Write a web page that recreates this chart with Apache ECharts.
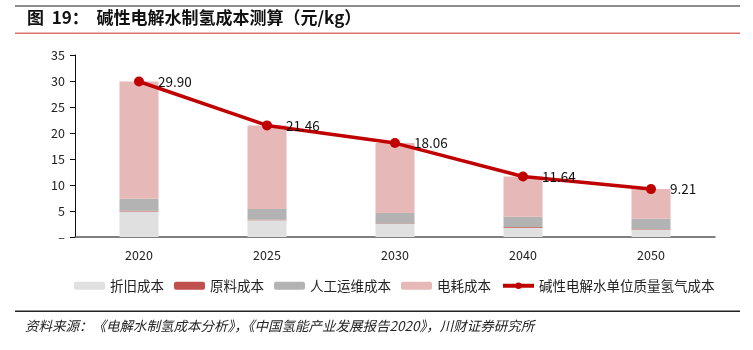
<!DOCTYPE html>
<html>
<head>
<meta charset="utf-8">
<script src="https://cdn.jsdelivr.net/npm/echarts@6/dist/echarts.min.js"></script>
<style>
  html, body { margin: 0; padding: 0; background: #fff; }
  #el { width: 753px; height: 350px; }
</style>
</head>
<body>
<div id="el"></div>
<script>
// 数据
var years = ['2020', '2025', '2030', '2040', '2050'];
var zhejiu = [4.9, 3.2, 2.5, 1.8, 1.4];        // 折旧成本
var yuanliao = [0.15, 0.1, 0.1, 0.1, 0.1];     // 原料成本
var rengong = [2.3, 2.1, 2.0, 2.0, 2.0];       // 人工运维成本
var total = [29.90, 21.46, 18.06, 11.64, 9.21]; // 单位质量氢气成本
var dianhao = total.map(function (t, i) {       // 电耗成本 = 总 - 其他
  return +(t - zhejiu[i] - yuanliao[i] - rengong[i]).toFixed(2);
});

var font = '"Noto Sans CJK SC", "DejaVu Sans", sans-serif';
var mychart = echarts.init(document.getElementById('el'));
var option = {
  animation: false,
  textStyle: { fontFamily: font },
  title: {
    left: 27, top: 9, padding: 0,
    text: '图  19：  碱性电解水制氢成本测算（元/kg）',
    textStyle: { fontSize: 17, fontWeight: 'bold', color: '#111' }
  },
  graphic: [
    { type: 'rect', shape: { x: 15, y: 5, width: 725, height: 2 }, style: { fill: '#8c8c8c' } },
    { type: 'rect', shape: { x: 15, y: 32.5, width: 725, height: 1.5 }, style: { fill: '#d9716e' } },
    { type: 'rect', shape: { x: 15, y: 310.5, width: 725, height: 1.5 }, style: { fill: '#222' } },
    {
      type: 'text', left: 25, top: 319,
      style: {
        text: '资料来源：《电解水制氢成本分析》，《中国氢能产业发展报告2020》，川财证券研究所',
        font: 'italic 13.5px ' + font, fill: '#222'
      }
    }
  ],
  legend: {
    left: 69, top: 274,
    itemWidth: 31, itemHeight: 8, itemGap: 10,
    textStyle: { fontSize: 13.5, color: '#222' },
    data: ['折旧成本', '原料成本', '人工运维成本', '电耗成本',
      { name: '碱性电解水单位质量氢气成本', lineStyle: { width: 4 } }]
  },
  grid: { left: 75, right: 38, top: 55, bottom: 113 },
  xAxis: {
    type: 'category',
    data: years,
    axisLine: { lineStyle: { color: '#555', width: 1.5 } },
    axisTick: { show: false },
    axisLabel: { color: '#222', fontSize: 12.5, margin: 12 }
  },
  yAxis: {
    type: 'value',
    min: 0, max: 35, interval: 5,
    axisLine: { show: true, lineStyle: { color: '#111' } },
    axisTick: { show: true, inside: false, length: 5, lineStyle: { color: '#111' } },
    splitLine: { show: false },
    axisLabel: {
      color: '#222', fontSize: 12.5, margin: 10,
      formatter: function (v) { return v === 0 ? '–' : v; }
    }
  },
  series: [
    { name: '折旧成本', type: 'bar', stack: 'c', barWidth: 39, data: zhejiu, itemStyle: { color: '#e0e0e0' } },
    { name: '原料成本', type: 'bar', stack: 'c', data: yuanliao, itemStyle: { color: '#c0504d' } },
    { name: '人工运维成本', type: 'bar', stack: 'c', data: rengong, itemStyle: { color: '#b3b3b3' } },
    { name: '电耗成本', type: 'bar', stack: 'c', data: dianhao, itemStyle: { color: '#e6b9b8' } },
    {
      name: '碱性电解水单位质量氢气成本', type: 'line', data: total,
      symbol: 'circle', symbolSize: 10,
      lineStyle: { color: '#c00000', width: 3.5 },
      itemStyle: { color: '#c00000' },
      label: {
        show: true, position: 'right', distance: 14,
        color: '#111', fontSize: 13.5,
        formatter: function (p) { return p.value.toFixed(2); }
      }
    }
  ]
};
option && mychart.setOption(option);
</script>
</body>
</html>
